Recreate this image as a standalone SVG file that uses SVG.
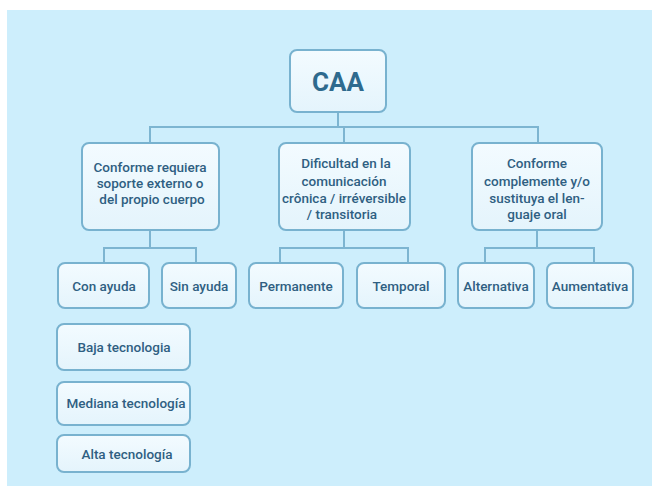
<svg xmlns="http://www.w3.org/2000/svg" width="652" height="486" viewBox="0 0 652 486">
<defs>
<linearGradient id="bg" x1="0" y1="0" x2="0" y2="1"><stop offset="0" stop-color="#f3fbff"/><stop offset="1" stop-color="#e4f4fc"/></linearGradient>
<style>
.box{fill:url(#bg);stroke:#78b2cf;stroke-width:2}
.t{font-family:Roboto,"Liberation Sans",sans-serif;font-weight:500;font-size:13.5px;fill:#2f5f82;text-anchor:middle}
.big{font-size:26px;font-weight:700;fill:#2e6a8e}
.c{fill:none;stroke:#7db5d1;stroke-width:2}
</style>
</defs>
<rect x="0" y="0" width="652" height="486" fill="#ffffff"/>
<rect x="7" y="10" width="645" height="476" fill="#cdeefc"/>
<g id="connectors">
<path class="c" d="M338 112V127M150 143V127H538V143M344 127V143"/>
<path class="c" d="M150 230V248M104 263V248H196V263"/>
<path class="c" d="M344 230V248M280 263V248H408V263"/>
<path class="c" d="M537 230V248M485 263V248H594V263"/>
</g>
<g id="caa"><rect class="box" x="290" y="50" width="96" height="62" rx="7"/><text class="t big" x="338" y="91">CAA</text></g>
<g id="n1"><rect class="box" x="82" y="143" width="137" height="87" rx="7"/>
<text class="t" x="150" y="172">Conforme requiera</text><text class="t" x="150" y="188">soporte externo o</text><text class="t" x="152" y="204">del propio cuerpo</text></g>
<g id="n2"><rect class="box" x="279" y="143" width="131" height="87" rx="7"/>
<text class="t" x="346" y="168">Dificultad en la</text><text class="t" x="344" y="186">comunicación</text><text class="t" x="344" y="203">crônica / irréversible</text><text class="t" x="342" y="219">/ transitoria</text></g>
<g id="n3"><rect class="box" x="472" y="143" width="130" height="87" rx="7"/>
<text class="t" x="537" y="168">Conforme</text><text class="t" x="537" y="186">complemente y/o</text><text class="t" x="537" y="203">sustituya el len-</text><text class="t" x="537" y="219">guaje oral</text></g>
<g id="con"><rect class="box" x="58" y="263" width="91" height="45" rx="7"/><text class="t" x="104" y="291">Con ayuda</text></g>
<g id="sin"><rect class="box" x="162" y="263" width="74" height="45" rx="7"/><text class="t" x="199" y="291">Sin ayuda</text></g>
<g id="perm"><rect class="box" x="249" y="263" width="94" height="45" rx="7"/><text class="t" x="296" y="291">Permanente</text></g>
<g id="temp"><rect class="box" x="357" y="263" width="88" height="45" rx="7"/><text class="t" x="401" y="291">Temporal</text></g>
<g id="alt"><rect class="box" x="458" y="263" width="76" height="45" rx="7"/><text class="t" x="496" y="291">Alternativa</text></g>
<g id="aum"><rect class="box" x="547" y="263" width="86" height="45" rx="7"/><text class="t" x="590" y="291">Aumentativa</text></g>
<g id="baja"><rect class="box" x="57" y="324" width="133" height="46" rx="7"/><text class="t" x="124" y="352">Baja tecnologia</text></g>
<g id="mediana"><rect class="box" x="57" y="382" width="133" height="43" rx="7"/><text class="t" x="126" y="408">Mediana tecnología</text></g>
<g id="alta"><rect class="box" x="57" y="435" width="133" height="37" rx="7"/><text class="t" x="127" y="459">Alta tecnología</text></g>
</svg>
